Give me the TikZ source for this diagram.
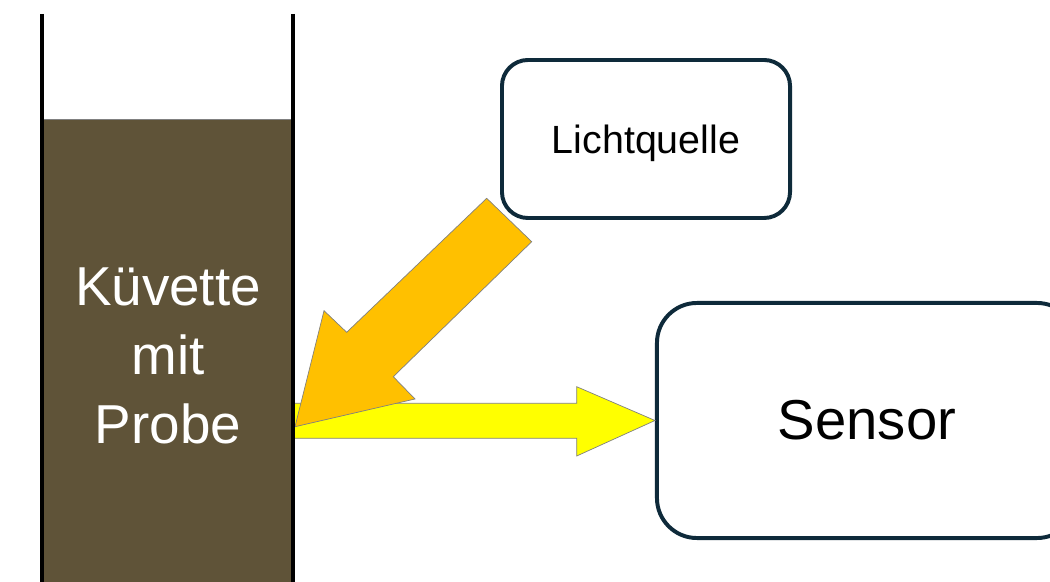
\documentclass[tikz,border=0pt]{standalone}
\usepackage{fontspec}
\setmainfont{Liberation Sans}
\usepackage{tikz}
\usetikzlibrary{calc}
\usepackage{xcolor}
\definecolor{probebrown}{RGB}{95,83,56}
\definecolor{boxnavy}{RGB}{14,42,58}
\definecolor{lightorange}{RGB}{255,192,0}
\definecolor{lightyellow}{RGB}{255,255,0}

\tikzset{
  box/.style={draw=boxnavy,line width=2.8pt,fill=white,align=center},
  beam/.style={draw=gray,line width=0.5pt,line join=miter}
}

\begin{document}
\begin{tikzpicture}[x=0.025cm,y=-0.025cm]
    \useasboundingbox (0,0) rectangle (1050,582);

    % Sample in the cuvette
    \fill[probebrown] (44,119) rectangle (291,582);
    \draw[gray,line width=0.4pt] (44,119) -- (291,119);
    \node[text=white,align=center,font=\fontsize{39}{49}\selectfont] (probe) at (168,356)
        {Küvette\\mit\\Probe};

    % Boxes
    \node[box,rounded corners=0.65cm,minimum width=7.2cm,minimum height=3.95cm,
          text depth=0pt,font=\fontsize{28}{34}\selectfont] (licht) at (646,139) {Lichtquelle};
    \node[box,rounded corners=1cm,minimum width=10.5cm,minimum height=5.875cm,
          font=\fontsize{40}{48}\selectfont] (sensor) at (867,420.5) {Sensor};

    % Transmitted light
    \draw[beam,fill=lightyellow] (293,403.3) -- (576.7,403.3) -- (576.7,386.7)
        -- (sensor.west) -- (576.7,456) -- (576.7,438.3) -- (293,438.3) -- cycle;

    % Incoming light
    \draw[beam,fill=lightorange] (486.7,198.3) -- (346.7,332.3) -- (324,310.7)
        -- (295,426.7) -- (415,399) -- (393.3,376.7) -- (531.7,241.7) -- cycle;

    % Cuvette walls
    \draw[line width=2.8pt] (42,14) -- (42,582);
    \draw[line width=2.8pt] (293,14) -- (293,582);
\end{tikzpicture}
\end{document}
